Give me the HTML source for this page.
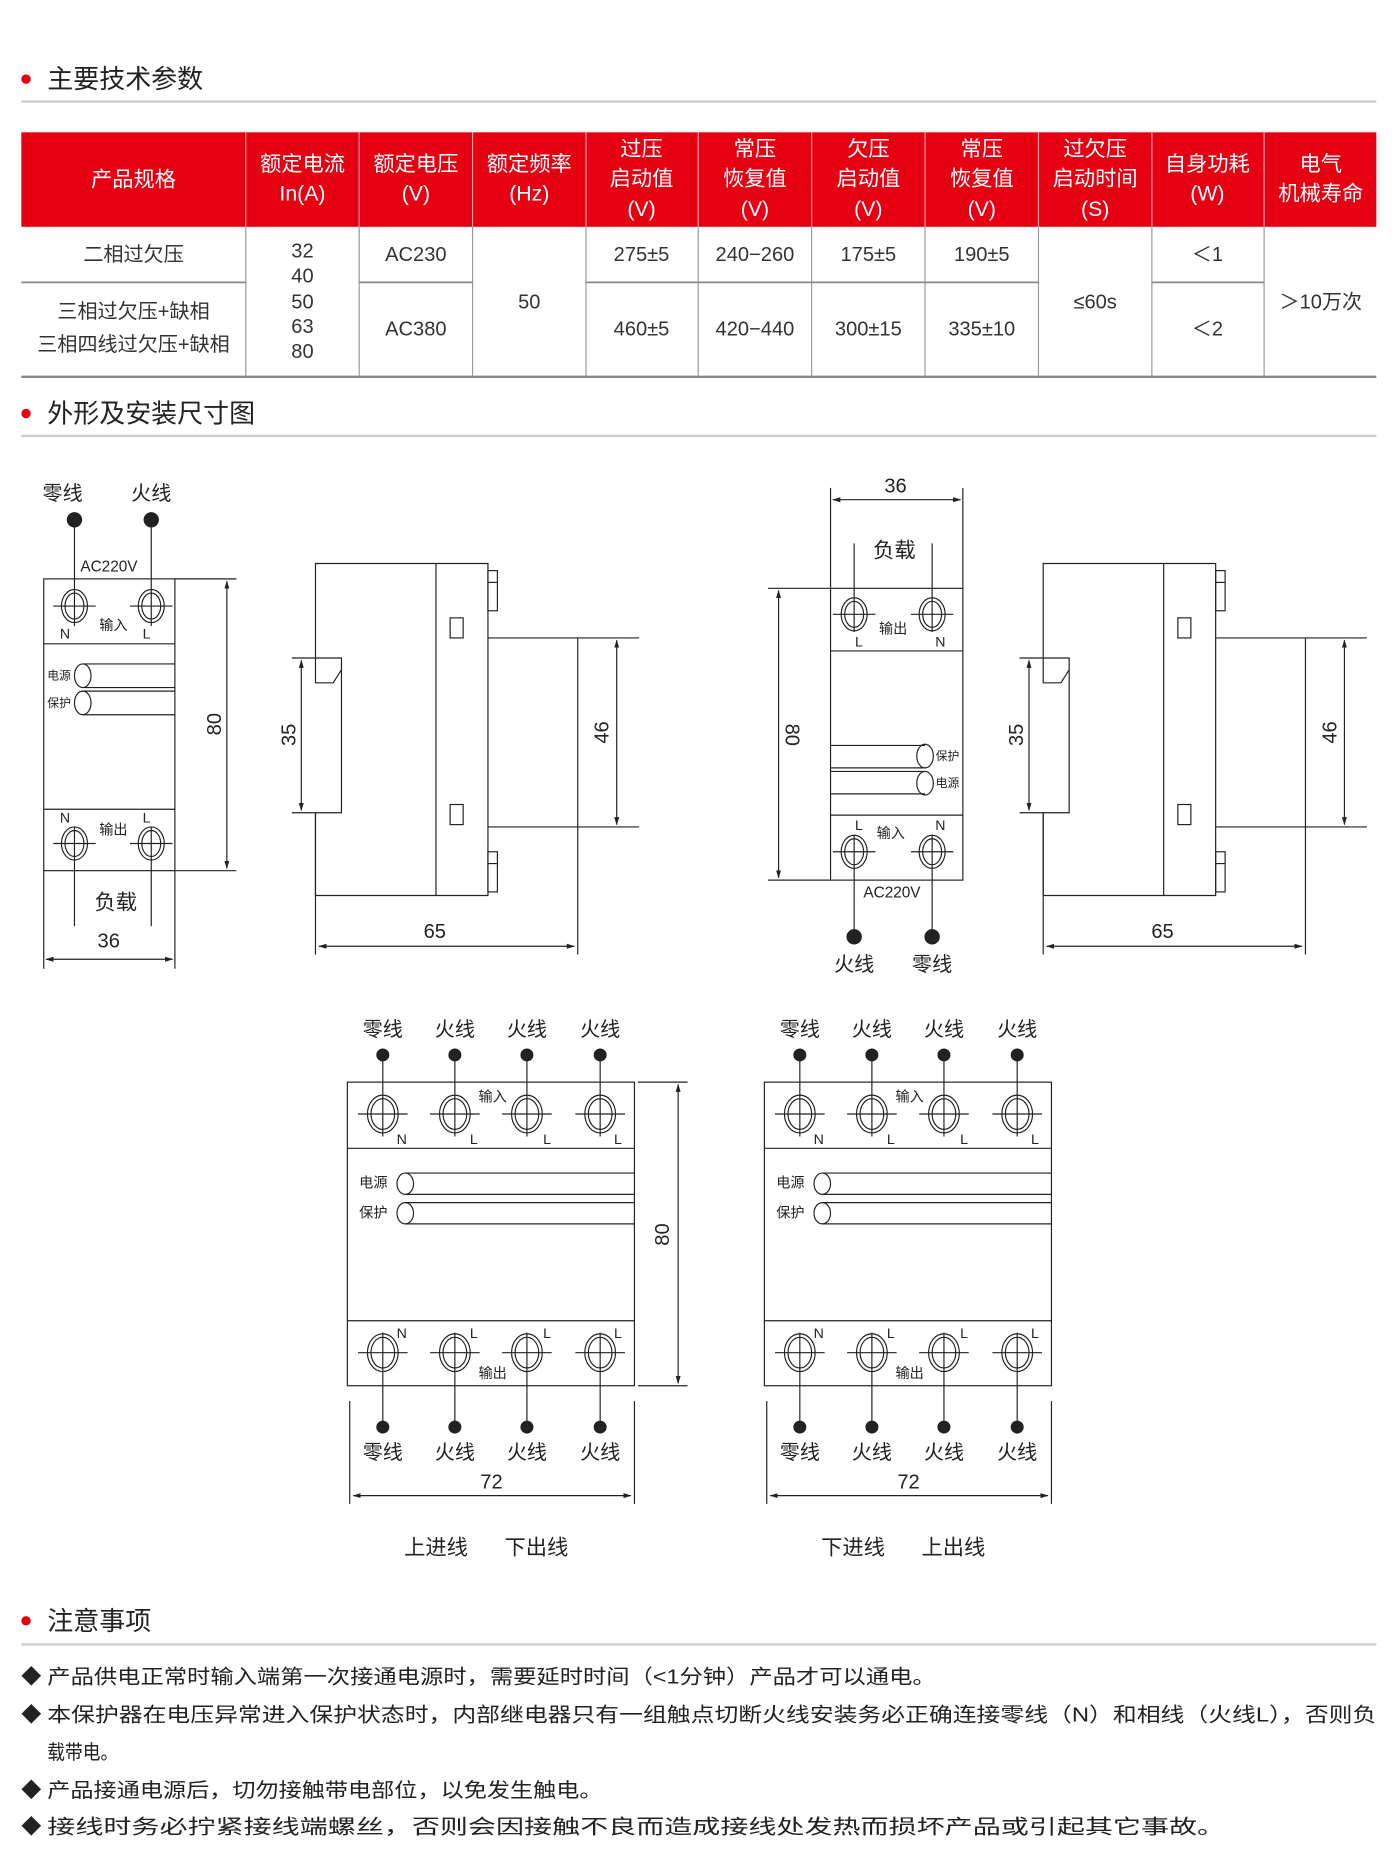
<!DOCTYPE html>
<html><head><meta charset="utf-8"><style>
html,body{margin:0;padding:0;background:#fff}
svg{display:block}
text{font-family:"Liberation Sans","Noto Sans CJK SC",sans-serif;fill:#222}
.t{font-size:17px;fill:#333}
.h{font-size:18px;fill:#fff}
.ln{stroke:#222;stroke-width:1;fill:none}
.gl{stroke:#999;stroke-width:1;fill:none}
</style></head><body>
<svg width="1400" height="1861" viewBox="0 0 1185 1575.3" xmlns="http://www.w3.org/2000/svg" dominant-baseline="central">
<defs>
<marker id="a" viewBox="0 0 10 10" refX="9" refY="5" markerWidth="7" markerHeight="7" orient="auto-start-reverse"><path d="M0,2 L10,5 L0,8 z" fill="#222"/></marker>
</defs>
<circle cx="22" cy="67" r="4" fill="#e60012"/>
<text x="40" y="67" style="font-size:22px">主要技术参数</text>
<line x1="18" y1="86" x2="1165" y2="86" stroke="#ccc" stroke-width="2"/>
<rect x="18" y="112" width="1147" height="80" fill="#e60012"/>
<g stroke="#f5a0a8" stroke-width="1">
<line x1="208" y1="112" x2="208" y2="192"/><line x1="304" y1="112" x2="304" y2="192"/><line x1="400" y1="112" x2="400" y2="192"/><line x1="496" y1="112" x2="496" y2="192"/><line x1="591" y1="112" x2="591" y2="192"/><line x1="687" y1="112" x2="687" y2="192"/><line x1="783" y1="112" x2="783" y2="192"/><line x1="879" y1="112" x2="879" y2="192"/><line x1="975" y1="112" x2="975" y2="192"/><line x1="1070" y1="112" x2="1070" y2="192"/>
</g>
<g text-anchor="middle">
<text class="h" x="113" y="152">产品规格</text>
<text class="h" x="256" y="139">额定电流</text><text class="h" x="256" y="164">In(A)</text>
<text class="h" x="352" y="139">额定电压</text><text class="h" x="352" y="164">(V)</text>
<text class="h" x="448" y="139">额定频率</text><text class="h" x="448" y="164">(Hz)</text>
<text class="h" x="543" y="126">过压</text><text class="h" x="543" y="151">启动值</text><text class="h" x="543" y="177">(V)</text>
<text class="h" x="639" y="126">常压</text><text class="h" x="639" y="151">恢复值</text><text class="h" x="639" y="177">(V)</text>
<text class="h" x="735" y="126">欠压</text><text class="h" x="735" y="151">启动值</text><text class="h" x="735" y="177">(V)</text>
<text class="h" x="831" y="126">常压</text><text class="h" x="831" y="151">恢复值</text><text class="h" x="831" y="177">(V)</text>
<text class="h" x="927" y="126">过欠压</text><text class="h" x="927" y="151">启动时间</text><text class="h" x="927" y="177">(S)</text>
<text class="h" x="1022" y="139">自身功耗</text><text class="h" x="1022" y="164">(W)</text>
<text class="h" x="1118" y="139">电气</text><text class="h" x="1118" y="164">机械寿命</text>
</g>
<g class="gl">
<line x1="208" y1="192" x2="208" y2="319"/><line x1="304" y1="192" x2="304" y2="319"/><line x1="400" y1="192" x2="400" y2="319"/><line x1="496" y1="192" x2="496" y2="319"/><line x1="591" y1="192" x2="591" y2="319"/><line x1="687" y1="192" x2="687" y2="319"/><line x1="783" y1="192" x2="783" y2="319"/><line x1="879" y1="192" x2="879" y2="319"/><line x1="975" y1="192" x2="975" y2="319"/><line x1="1070" y1="192" x2="1070" y2="319"/>
</g>
<g stroke="#888" stroke-width="1.5">
<line x1="18" y1="239" x2="208" y2="239"/><line x1="304" y1="239" x2="400" y2="239"/><line x1="496" y1="239" x2="879" y2="239"/><line x1="975" y1="239" x2="1070" y2="239"/>
</g>
<line x1="18" y1="319" x2="1165" y2="319" stroke="#888" stroke-width="2"/>
<g text-anchor="middle">
<text class="t" x="113" y="216">二相过欠压</text>
<text class="t" x="113" y="264">三相过欠压+缺相</text>
<text class="t" x="113" y="292">三相四线过欠压+缺相</text>
<text class="t" x="256" y="213">32</text><text class="t" x="256" y="234">40</text><text class="t" x="256" y="256">50</text><text class="t" x="256" y="277">63</text><text class="t" x="256" y="298">80</text>
<text class="t" x="352" y="216">AC230</text><text class="t" x="352" y="279">AC380</text>
<text class="t" x="448" y="256">50</text>
<text class="t" x="543" y="216">275±5</text><text class="t" x="639" y="216">240−260</text><text class="t" x="735" y="216">175±5</text><text class="t" x="831" y="216">190±5</text>
<text class="t" x="543" y="279">460±5</text><text class="t" x="639" y="279">420−440</text><text class="t" x="735" y="279">300±15</text><text class="t" x="831" y="279">335±10</text>
<text class="t" x="927" y="256">≤60s</text>
<text class="t" x="1022" y="216">＜1</text><text class="t" x="1022" y="279">＜2</text>
<text class="t" x="1118" y="256">＞10万次</text>
</g>
<circle cx="22" cy="350" r="4" fill="#e60012"/>
<text x="40" y="350" style="font-size:22px">外形及安装尺寸图</text>
<line x1="18" y1="369" x2="1165" y2="369" stroke="#ccc" stroke-width="2"/>

<g class="ln" style="font-size:17px">
<text x="53" y="418" text-anchor="middle" stroke="none">零线</text><text x="128" y="418" text-anchor="middle" stroke="none">火线</text>
<circle cx="63" cy="440" r="6" fill="#222"/><circle cx="128" cy="440" r="6" fill="#222"/>
<line x1="63" y1="440" x2="63" y2="530"/><line x1="128" y1="440" x2="128" y2="530"/>
<text x="68" y="480" stroke="none" style="font-size:13px">AC220V</text>
<rect x="37" y="490" width="111" height="247"/>
<line x1="37" y1="545" x2="148" y2="545"/><line x1="37" y1="685" x2="148" y2="685"/>
<ellipse cx="63" cy="513" rx="11" ry="14"/><ellipse cx="63" cy="513" rx="8" ry="11"/><line x1="45" y1="513" x2="81" y2="513"/>
<ellipse cx="128" cy="513" rx="11" ry="14"/><ellipse cx="128" cy="513" rx="8" ry="11"/><line x1="110" y1="513" x2="146" y2="513"/>
<text x="55" y="537" text-anchor="middle" stroke="none" style="font-size:12px">N</text><text x="96" y="530" text-anchor="middle" stroke="none" style="font-size:12px">输入</text><text x="124" y="537" text-anchor="middle" stroke="none" style="font-size:12px">L</text>
<text x="40" y="572" stroke="none" style="font-size:10px">电源</text><ellipse cx="70" cy="572" rx="7" ry="10"/><line x1="70" y1="562" x2="148" y2="562"/><line x1="70" y1="582" x2="148" y2="582"/>
<text x="40" y="595" stroke="none" style="font-size:10px">保护</text><ellipse cx="70" cy="595" rx="7" ry="10"/><line x1="70" y1="585" x2="148" y2="585"/><line x1="70" y1="605" x2="148" y2="605"/>
<text x="55" y="693" text-anchor="middle" stroke="none" style="font-size:12px">N</text><text x="96" y="703" text-anchor="middle" stroke="none" style="font-size:12px">输出</text><text x="124" y="693" text-anchor="middle" stroke="none" style="font-size:12px">L</text>
<ellipse cx="63" cy="714" rx="11" ry="14"/><ellipse cx="63" cy="714" rx="8" ry="11"/><line x1="45" y1="714" x2="81" y2="714"/>
<ellipse cx="128" cy="714" rx="11" ry="14"/><ellipse cx="128" cy="714" rx="8" ry="11"/><line x1="110" y1="714" x2="146" y2="714"/>
<line x1="63" y1="700" x2="63" y2="784"/><line x1="128" y1="700" x2="128" y2="784"/>
<line x1="148" y1="490" x2="200" y2="490"/><line x1="148" y1="737" x2="200" y2="737"/>
<line x1="192" y1="492" x2="192" y2="735" marker-start="url(#a)" marker-end="url(#a)"/>
<text transform="translate(182,613) rotate(-90)" text-anchor="middle" stroke="none">80</text>
<text x="98" y="764" text-anchor="middle" stroke="none" style="font-size:18px">负载</text>
<text x="92" y="797" text-anchor="middle" stroke="none">36</text>
<line x1="37" y1="737" x2="37" y2="820"/><line x1="148" y1="737" x2="148" y2="820"/>
<line x1="39" y1="812" x2="146" y2="812" marker-start="url(#a)" marker-end="url(#a)"/>

<g>
<path d="M267,557 L267,477 L413,477 L413,758 L267,758 L267,688"/>
<line x1="369" y1="477" x2="369" y2="758"/>
<rect x="413" y="483" width="8" height="34"/><rect x="413" y="721" width="8" height="34"/>
<line x1="413" y1="493" x2="421" y2="493"/><line x1="413" y1="731" x2="421" y2="731"/>
<rect x="381" y="523" width="11" height="17"/><rect x="381" y="681" width="11" height="17"/>
<path d="M247,557 L289,557 L289,688 L247,688"/>
<path d="M267,557 L267,578 L282,578 L289,567"/>
<path d="M413,540 L541,540 M413,700 L541,700 M489,540 L489,808"/>
<line x1="267" y1="688" x2="267" y2="808"/>
<line x1="255" y1="559" x2="255" y2="686" marker-start="url(#a)" marker-end="url(#a)"/>
<line x1="522" y1="542" x2="522" y2="698" marker-start="url(#a)" marker-end="url(#a)"/>
<line x1="270" y1="801" x2="486" y2="801" marker-start="url(#a)" marker-end="url(#a)"/>
<text transform="translate(245,622) rotate(-90)" text-anchor="middle" stroke="none">35</text>
<text transform="translate(510,620) rotate(-90)" text-anchor="middle" stroke="none">46</text>
<text x="368" y="789" text-anchor="middle" stroke="none">65</text>
</g>
<g transform="translate(616,0)">
<path d="M267,557 L267,477 L413,477 L413,758 L267,758 L267,688"/>
<line x1="369" y1="477" x2="369" y2="758"/>
<rect x="413" y="483" width="8" height="34"/><rect x="413" y="721" width="8" height="34"/>
<line x1="413" y1="493" x2="421" y2="493"/><line x1="413" y1="731" x2="421" y2="731"/>
<rect x="381" y="523" width="11" height="17"/><rect x="381" y="681" width="11" height="17"/>
<path d="M247,557 L289,557 L289,688 L247,688"/>
<path d="M267,557 L267,578 L282,578 L289,567"/>
<path d="M413,540 L541,540 M413,700 L541,700 M489,540 L489,808"/>
<line x1="267" y1="688" x2="267" y2="808"/>
<line x1="255" y1="559" x2="255" y2="686" marker-start="url(#a)" marker-end="url(#a)"/>
<line x1="522" y1="542" x2="522" y2="698" marker-start="url(#a)" marker-end="url(#a)"/>
<line x1="270" y1="801" x2="486" y2="801" marker-start="url(#a)" marker-end="url(#a)"/>
<text transform="translate(245,622) rotate(-90)" text-anchor="middle" stroke="none">35</text>
<text transform="translate(510,620) rotate(-90)" text-anchor="middle" stroke="none">46</text>
<text x="368" y="789" text-anchor="middle" stroke="none">65</text>
</g>

<text x="758" y="412" text-anchor="middle" stroke="none">36</text>
<line x1="703" y1="413" x2="703" y2="498"/><line x1="815" y1="413" x2="815" y2="498"/>
<line x1="705" y1="423" x2="813" y2="423" marker-start="url(#a)" marker-end="url(#a)"/>
<text x="757" y="466" text-anchor="middle" stroke="none" style="font-size:18px">负载</text>
<line x1="723" y1="460" x2="723" y2="535"/><line x1="789" y1="460" x2="789" y2="535"/>
<rect x="703" y="498" width="112" height="247"/>
<line x1="703" y1="551" x2="815" y2="551"/><line x1="703" y1="690" x2="815" y2="690"/>
<ellipse cx="723" cy="520" rx="11" ry="14"/><ellipse cx="723" cy="520" rx="8" ry="11"/><line x1="705" y1="520" x2="741" y2="520"/>
<ellipse cx="789" cy="520" rx="11" ry="14"/><ellipse cx="789" cy="520" rx="8" ry="11"/><line x1="771" y1="520" x2="807" y2="520"/>
<text x="727" y="544" text-anchor="middle" stroke="none" style="font-size:12px">L</text><text x="756" y="533" text-anchor="middle" stroke="none" style="font-size:12px">输出</text><text x="796" y="544" text-anchor="middle" stroke="none" style="font-size:12px">N</text>
<line x1="703" y1="631" x2="783" y2="631"/><line x1="703" y1="650" x2="783" y2="650"/><ellipse cx="783" cy="640" rx="7" ry="10"/><text x="792" y="640" stroke="none" style="font-size:10px">保护</text>
<line x1="703" y1="653" x2="783" y2="653"/><line x1="703" y1="672" x2="783" y2="672"/><ellipse cx="783" cy="663" rx="7" ry="10"/><text x="792" y="663" stroke="none" style="font-size:10px">电源</text>
<text x="727" y="699" text-anchor="middle" stroke="none" style="font-size:12px">L</text><text x="754" y="706" text-anchor="middle" stroke="none" style="font-size:12px">输入</text><text x="796" y="699" text-anchor="middle" stroke="none" style="font-size:12px">N</text>
<ellipse cx="723" cy="721" rx="11" ry="14"/><ellipse cx="723" cy="721" rx="8" ry="11"/><line x1="705" y1="721" x2="741" y2="721"/>
<ellipse cx="789" cy="721" rx="11" ry="14"/><ellipse cx="789" cy="721" rx="8" ry="11"/><line x1="771" y1="721" x2="807" y2="721"/>
<line x1="723" y1="707" x2="723" y2="793"/><line x1="789" y1="707" x2="789" y2="793"/>
<text x="755" y="756" text-anchor="middle" stroke="none" style="font-size:13px">AC220V</text>
<circle cx="723" cy="793" r="6" fill="#222"/><circle cx="789" cy="793" r="6" fill="#222"/>
<text x="723" y="817" text-anchor="middle" stroke="none">火线</text><text x="789" y="817" text-anchor="middle" stroke="none">零线</text>
<line x1="650" y1="498" x2="703" y2="498"/><line x1="650" y1="745" x2="703" y2="745"/>
<line x1="659" y1="500" x2="659" y2="743" marker-start="url(#a)" marker-end="url(#a)"/>
<text transform="translate(670,622) rotate(90)" text-anchor="middle" stroke="none">80</text>

<g>
<rect x="294" y="916" width="243" height="257"/>
<line x1="294" y1="972" x2="537" y2="972"/><line x1="294" y1="1118" x2="537" y2="1118"/>
<g stroke="none" text-anchor="middle"><text x="324" y="872">零线</text><text x="385" y="872">火线</text><text x="446" y="872">火线</text><text x="508" y="872">火线</text>
<text x="324" y="1230">零线</text><text x="385" y="1230">火线</text><text x="446" y="1230">火线</text><text x="508" y="1230">火线</text></g>
<g fill="#222"><circle cx="324" cy="893" r="5"/><circle cx="385" cy="893" r="5"/><circle cx="446" cy="893" r="5"/><circle cx="508" cy="893" r="5"/>
<circle cx="324" cy="1208" r="5"/><circle cx="385" cy="1208" r="5"/><circle cx="446" cy="1208" r="5"/><circle cx="508" cy="1208" r="5"/></g>
<path d="M324,893 V962 M385,893 V962 M446,893 V962 M508,893 V962 M324,1128 V1208 M385,1128 V1208 M446,1128 V1208 M508,1128 V1208"/>
<ellipse cx="324" cy="943" rx="13" ry="16"/><ellipse cx="324" cy="943" rx="10" ry="13"/>
<ellipse cx="385" cy="943" rx="13" ry="16"/><ellipse cx="385" cy="943" rx="10" ry="13"/>
<ellipse cx="446" cy="943" rx="13" ry="16"/><ellipse cx="446" cy="943" rx="10" ry="13"/>
<ellipse cx="508" cy="943" rx="13" ry="16"/><ellipse cx="508" cy="943" rx="10" ry="13"/>
<ellipse cx="324" cy="1145" rx="13" ry="16"/><ellipse cx="324" cy="1145" rx="10" ry="13"/>
<ellipse cx="385" cy="1145" rx="13" ry="16"/><ellipse cx="385" cy="1145" rx="10" ry="13"/>
<ellipse cx="446" cy="1145" rx="13" ry="16"/><ellipse cx="446" cy="1145" rx="10" ry="13"/>
<ellipse cx="508" cy="1145" rx="13" ry="16"/><ellipse cx="508" cy="1145" rx="10" ry="13"/>
<path d="M303,943 H345 M364,943 H406 M425,943 H467 M487,943 H529 M303,1145 H345 M364,1145 H406 M425,1145 H467 M487,1145 H529"/>
<g stroke="none" style="font-size:12px" text-anchor="middle">
<text x="417" y="929">输入</text><text x="340" y="965">N</text><text x="401" y="965">L</text><text x="463" y="965">L</text><text x="523" y="965">L</text>
<text x="340" y="1129">N</text><text x="401" y="1129">L</text><text x="463" y="1129">L</text><text x="523" y="1129">L</text><text x="417" y="1163">输出</text>
<text x="316" y="1002">电源</text><text x="316" y="1027">保护</text></g>
<ellipse cx="343" cy="1002" rx="7" ry="9"/><ellipse cx="343" cy="1027" rx="7" ry="9"/>
<path d="M343,993 H537 M343,1011 H537 M343,1018 H537 M343,1036 H537"/>
<line x1="296" y1="1186" x2="296" y2="1273"/><line x1="537" y1="1186" x2="537" y2="1273"/>
<line x1="299" y1="1266" x2="534" y2="1266" marker-start="url(#a)" marker-end="url(#a)"/>
<text x="416" y="1255" text-anchor="middle" stroke="none">72</text>
</g>
<line x1="540" y1="916" x2="582" y2="916"/><line x1="540" y1="1173" x2="582" y2="1173"/>
<line x1="574" y1="918" x2="574" y2="1171" marker-start="url(#a)" marker-end="url(#a)"/>
<text transform="translate(561,1045) rotate(-90)" text-anchor="middle" stroke="none">80</text>
<text x="369" y="1310" text-anchor="middle" stroke="none" style="font-size:18px">上进线</text>
<text x="454" y="1310" text-anchor="middle" stroke="none" style="font-size:18px">下出线</text>

<g transform="translate(353,0)">
<rect x="294" y="916" width="243" height="257"/>
<line x1="294" y1="972" x2="537" y2="972"/><line x1="294" y1="1118" x2="537" y2="1118"/>
<g stroke="none" text-anchor="middle"><text x="324" y="872">零线</text><text x="385" y="872">火线</text><text x="446" y="872">火线</text><text x="508" y="872">火线</text>
<text x="324" y="1230">零线</text><text x="385" y="1230">火线</text><text x="446" y="1230">火线</text><text x="508" y="1230">火线</text></g>
<g fill="#222"><circle cx="324" cy="893" r="5"/><circle cx="385" cy="893" r="5"/><circle cx="446" cy="893" r="5"/><circle cx="508" cy="893" r="5"/>
<circle cx="324" cy="1208" r="5"/><circle cx="385" cy="1208" r="5"/><circle cx="446" cy="1208" r="5"/><circle cx="508" cy="1208" r="5"/></g>
<path d="M324,893 V962 M385,893 V962 M446,893 V962 M508,893 V962 M324,1128 V1208 M385,1128 V1208 M446,1128 V1208 M508,1128 V1208"/>
<ellipse cx="324" cy="943" rx="13" ry="16"/><ellipse cx="324" cy="943" rx="10" ry="13"/>
<ellipse cx="385" cy="943" rx="13" ry="16"/><ellipse cx="385" cy="943" rx="10" ry="13"/>
<ellipse cx="446" cy="943" rx="13" ry="16"/><ellipse cx="446" cy="943" rx="10" ry="13"/>
<ellipse cx="508" cy="943" rx="13" ry="16"/><ellipse cx="508" cy="943" rx="10" ry="13"/>
<ellipse cx="324" cy="1145" rx="13" ry="16"/><ellipse cx="324" cy="1145" rx="10" ry="13"/>
<ellipse cx="385" cy="1145" rx="13" ry="16"/><ellipse cx="385" cy="1145" rx="10" ry="13"/>
<ellipse cx="446" cy="1145" rx="13" ry="16"/><ellipse cx="446" cy="1145" rx="10" ry="13"/>
<ellipse cx="508" cy="1145" rx="13" ry="16"/><ellipse cx="508" cy="1145" rx="10" ry="13"/>
<path d="M303,943 H345 M364,943 H406 M425,943 H467 M487,943 H529 M303,1145 H345 M364,1145 H406 M425,1145 H467 M487,1145 H529"/>
<g stroke="none" style="font-size:12px" text-anchor="middle">
<text x="417" y="929">输入</text><text x="340" y="965">N</text><text x="401" y="965">L</text><text x="463" y="965">L</text><text x="523" y="965">L</text>
<text x="340" y="1129">N</text><text x="401" y="1129">L</text><text x="463" y="1129">L</text><text x="523" y="1129">L</text><text x="417" y="1163">输出</text>
<text x="316" y="1002">电源</text><text x="316" y="1027">保护</text></g>
<ellipse cx="343" cy="1002" rx="7" ry="9"/><ellipse cx="343" cy="1027" rx="7" ry="9"/>
<path d="M343,993 H537 M343,1011 H537 M343,1018 H537 M343,1036 H537"/>
<line x1="296" y1="1186" x2="296" y2="1273"/><line x1="537" y1="1186" x2="537" y2="1273"/>
<line x1="299" y1="1266" x2="534" y2="1266" marker-start="url(#a)" marker-end="url(#a)"/>
<text x="416" y="1255" text-anchor="middle" stroke="none">72</text>
<text x="369" y="1310" text-anchor="middle" stroke="none" style="font-size:18px">下进线</text>
<text x="454" y="1310" text-anchor="middle" stroke="none" style="font-size:18px">上出线</text>
</g>
</g>

<circle cx="22" cy="1372" r="4" fill="#e60012"/>
<text x="40" y="1372" style="font-size:22px">注意事项</text>
<line x1="18" y1="1392" x2="1165" y2="1392" stroke="#ccc" stroke-width="2"/>
<g style="font-size:17px">
<text x="18" y="1420">◆</text><text x="40" y="1420" textLength="752" lengthAdjust="spacingAndGlyphs">产品供电正常时输入端第一次接通电源时，需要延时时间（&lt;1分钟）产品才可以通电。</text>
<text x="18" y="1452">◆</text><text x="40" y="1452" textLength="1125" lengthAdjust="spacingAndGlyphs">本保护器在电压异常进入保护状态时，内部继电器只有一组触点切断火线安装务必正确连接零线（N）和相线（火线L），否则负</text>
<text x="40" y="1484" textLength="60" lengthAdjust="spacingAndGlyphs">载带电。</text>
<text x="18" y="1516">◆</text><text x="40" y="1516" textLength="470" lengthAdjust="spacingAndGlyphs">产品接通电源后，切勿接触带电部位，以免发生触电。</text>
<text x="18" y="1547">◆</text><text x="40" y="1547" textLength="997" lengthAdjust="spacingAndGlyphs">接线时务必拧紧接线端螺丝，否则会因接触不良而造成接线处发热而损坏产品或引起其它事故。</text>
</g>
</svg>
</body></html>
